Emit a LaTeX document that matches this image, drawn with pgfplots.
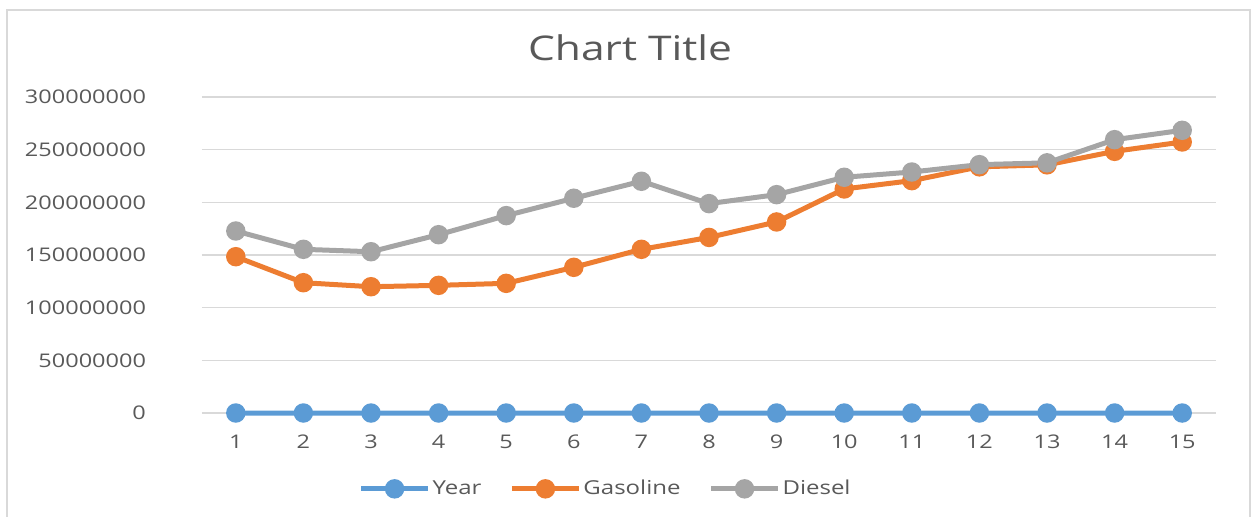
\documentclass[border=0pt]{standalone}
\usepackage{fontspec}
\setmainfont{Open Sans}[FakeStretch=1.25]
\usepackage{pgfplots}
\pgfplotsset{compat=1.18}

\definecolor{serA}{HTML}{5B9BD5}
\definecolor{serB}{HTML}{ED7D31}
\definecolor{serC}{HTML}{A5A5A5}
\definecolor{gridc}{HTML}{D9D9D9}
\definecolor{txt}{HTML}{595959}

\begin{document}
\begin{tikzpicture}[x=1pt,y=1pt]
\useasboundingbox (0,0) rectangle (628,258);
% chart frame
\draw[gridc, line width=1pt] (3.5,-3) -- (3.5,253) -- (625,253) -- (625,-3);
% title
\node[text=txt, font=\fontsize{17}{19}\selectfont] at (315,234) {Chart Title};

\begin{axis}[
  at={(101pt,51.5pt)}, anchor=south west,
  scale only axis, width=507pt, height=158pt,
  xmin=0.5, xmax=15.5, ymin=0, ymax=300000000,
  axis line style={draw=none},
  major tick length=0pt,
  scaled y ticks=false,
  xtick={1,...,15},
  ytick={0,50000000,100000000,150000000,200000000,250000000,300000000},
  yticklabels={0,50000000,100000000,150000000,200000000,250000000,300000000},
  xticklabel style={anchor=center, yshift=-14.5pt},
  yticklabel style={anchor=east, xshift=-24.5pt},
  ticklabel style={text=txt, font=\fontsize{9.4}{11}\selectfont},
  /pgf/number format/assume math mode=true,
  ymajorgrids,
  grid style={gridc, line width=0.8pt},
  every axis plot/.append style={line width=2.5pt, mark=*, mark size=3.6pt, mark options={solid, xscale=1.3}},
  legend columns=3,
  legend style={at={(0.398,-0.24)}, anchor=center, draw=none, fill=none,
    font=\fontsize{9.6}{11}\selectfont, text=txt,
    /tikz/every even column/.append style={column sep=13pt},
    nodes={inner sep=1pt}},
  legend image code/.code={%
    \draw[mark repeat=2, mark phase=2, #1] plot coordinates {(0pt,0pt) (16.75pt,0pt) (33.5pt,0pt)};},
  clip=false,
]
\addplot[serA, mark options={fill=serA, draw=serA}] coordinates {
 (1,2001) (2,2002) (3,2003) (4,2004) (5,2005) (6,2006) (7,2007) (8,2008)
 (9,2009) (10,2010) (11,2011) (12,2012) (13,2013) (14,2014) (15,2015)};
\addlegendentry{Year}
\addplot[serB, mark options={fill=serB, draw=serB}] coordinates {
 (1,148400000) (2,123700000) (3,119900000) (4,121200000) (5,123100000)
 (6,138300000) (7,155400000) (8,166700000) (9,181400000) (10,212700000)
 (11,220600000) (12,233700000) (13,235600000) (14,248400000) (15,257300000)};
\addlegendentry{Gasoline}
\addplot[serC, mark options={fill=serC, draw=serC}] coordinates {
 (1,172800000) (2,155400000) (3,153100000) (4,169300000) (5,187400000)
 (6,203900000) (7,220000000) (8,198800000) (9,207300000) (10,223800000)
 (11,228800000) (12,235800000) (13,237500000) (14,259500000) (15,268400000)};
\addlegendentry{Diesel}
\end{axis}
\end{tikzpicture}
\end{document}
